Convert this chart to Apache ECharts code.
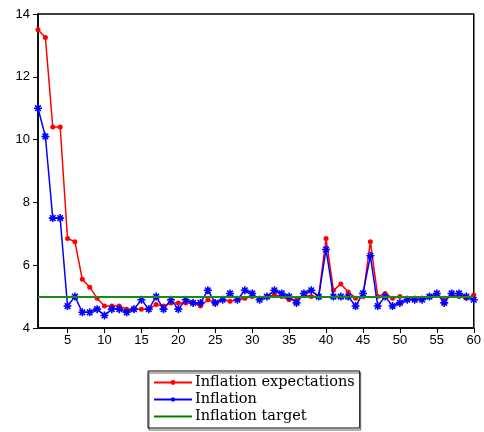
<!DOCTYPE html>
<html>
<head>
    <meta charset="UTF-8"/>
    <title>Inflation</title>
    <script type="text/javascript" src="https://cdn.jsdelivr.net/npm/echarts@6/dist/echarts.min.js"></script>
</head>
<body style="margin:0;background:#fff;">
<div id="main" style="width: 484px;height:432px;"></div>
<script type="text/javascript">
    // periods 1..60
    var periods = [];
    for (var i = 1; i <= 60; i++) periods.push(String(i));

    var expectations = [13.5, 13.25, 10.4, 10.4, 6.85, 6.75, 5.55, 5.3, 4.95, 4.7,
        4.7, 4.7, 4.6, 4.6, 4.6, 4.6, 4.75, 4.7, 4.8, 4.8,
        4.8, 4.8, 4.7, 4.9, 4.8, 4.9, 4.85, 4.9, 4.95, 5.0,
        4.95, 5.0, 5.05, 5.0, 4.9, 4.9, 5.05, 5.0, 5.0, 6.85,
        5.2, 5.4, 5.15, 4.95, 5.0, 6.75, 5.0, 5.1, 4.95, 5.0,
        4.95, 4.95, 4.95, 5.0, 5.05, 4.95, 5.05, 5.0, 4.95, 5.05];
    var inflation = [11.0, 10.1, 7.5, 7.5, 4.7, 5.0, 4.5, 4.5, 4.6, 4.4,
        4.6, 4.6, 4.5, 4.6, 4.9, 4.6, 5.0, 4.6, 4.9, 4.6,
        4.9, 4.8, 4.8, 5.2, 4.8, 4.9, 5.1, 4.9, 5.2, 5.1,
        4.9, 5.0, 5.2, 5.1, 5.0, 4.8, 5.1, 5.2, 5.0, 6.5,
        5.0, 5.0, 5.0, 4.7, 5.1, 6.3, 4.7, 5.0, 4.7, 4.8,
        4.9, 4.9, 4.9, 5.0, 5.1, 4.8, 5.1, 5.1, 5.0, 4.9];
    var target = 5;
    var yTicks = [4, 6, 8, 10, 12, 14];

    // asterisk marker
    var star = 'path://M-5,-1L5,-1L5,1L-5,1Z M-1,-5L1,-5L1,5L-1,5Z ' +
        'M-2.8,-4.2L4.2,2.8L2.8,4.2L-4.2,-2.8Z M4.2,-2.8L-2.8,4.2L-4.2,2.8L2.8,-4.2Z';

    function everyFifth(idx, val) {
        return Number(val) % 5 === 0;
    }

    var myChart = echarts.init(document.getElementById('main'));
    var option = {
        animation: false,
        grid: {
            left: 38, right: 8, top: 14, bottom: 104,
            show: true, borderColor: '#000', borderWidth: 1.5
        },
        legend: {
            orient: 'vertical',
            left: 148, top: 371,
            padding: [4, 5, 4, 5],
            itemGap: 2,
            itemWidth: 38,
            itemHeight: 6,
            borderColor: '#000',
            borderWidth: 1,
            shadowColor: 'rgba(0,0,0,0.6)',
            shadowOffsetX: 1,
            shadowOffsetY: 2,
            shadowBlur: 0,
            textStyle: { fontFamily: 'DejaVu Serif', fontSize: 14.5, color: '#000', padding: [0, 0, 0, -2] },
            data: [
                { name: 'Inflation expectations' },
                { name: 'Inflation' },
                { name: 'Inflation target', itemStyle: { opacity: 0 } }
            ]
        },
        xAxis: {
            type: 'category',
            data: periods,
            boundaryGap: false,
            axisLine: { lineStyle: { color: '#000', width: 1.5 } },
            axisTick: { interval: everyFifth, length: 5, lineStyle: { color: '#000' } },
            axisLabel: { interval: everyFifth, color: '#000', fontSize: 13, fontFamily: 'Liberation Sans', margin: 6 }
        },
        yAxis: {
            type: 'value',
            min: yTicks[0],
            max: yTicks[yTicks.length - 1],
            interval: 2,
            splitLine: { show: false },
            axisLine: { show: true, lineStyle: { color: '#000', width: 1.5 } },
            axisTick: { show: true, length: 5, lineStyle: { color: '#000' } },
            axisLabel: { color: '#000', fontSize: 13, fontFamily: 'Liberation Sans', margin: 8 }
        },
        series: [{
            name: 'Inflation expectations',
            type: 'line',
            data: expectations,
            color: '#ff0000',
            symbol: 'circle',
            symbolSize: 5,
            showAllSymbol: true,
            lineStyle: { width: 1.5 },
            z: 3
        }, {
            name: 'Inflation',
            type: 'line',
            data: inflation,
            color: '#0000ff',
            symbol: star,
            symbolSize: 8,
            showAllSymbol: true,
            lineStyle: { width: 1.5 },
            z: 4
        }, {
            name: 'Inflation target',
            type: 'line',
            data: [],
            color: '#008000',
            symbol: 'none',
            lineStyle: { width: 1.5 },
            markLine: {
                silent: true,
                symbol: 'none',
                label: { show: false },
                lineStyle: { color: '#1a8a1a', width: 1.8, type: 'solid' },
                data: [{ yAxis: target }]
            },
            z: 2
        }]
    };
    myChart.setOption(option);
</script>
</body>
</html>
